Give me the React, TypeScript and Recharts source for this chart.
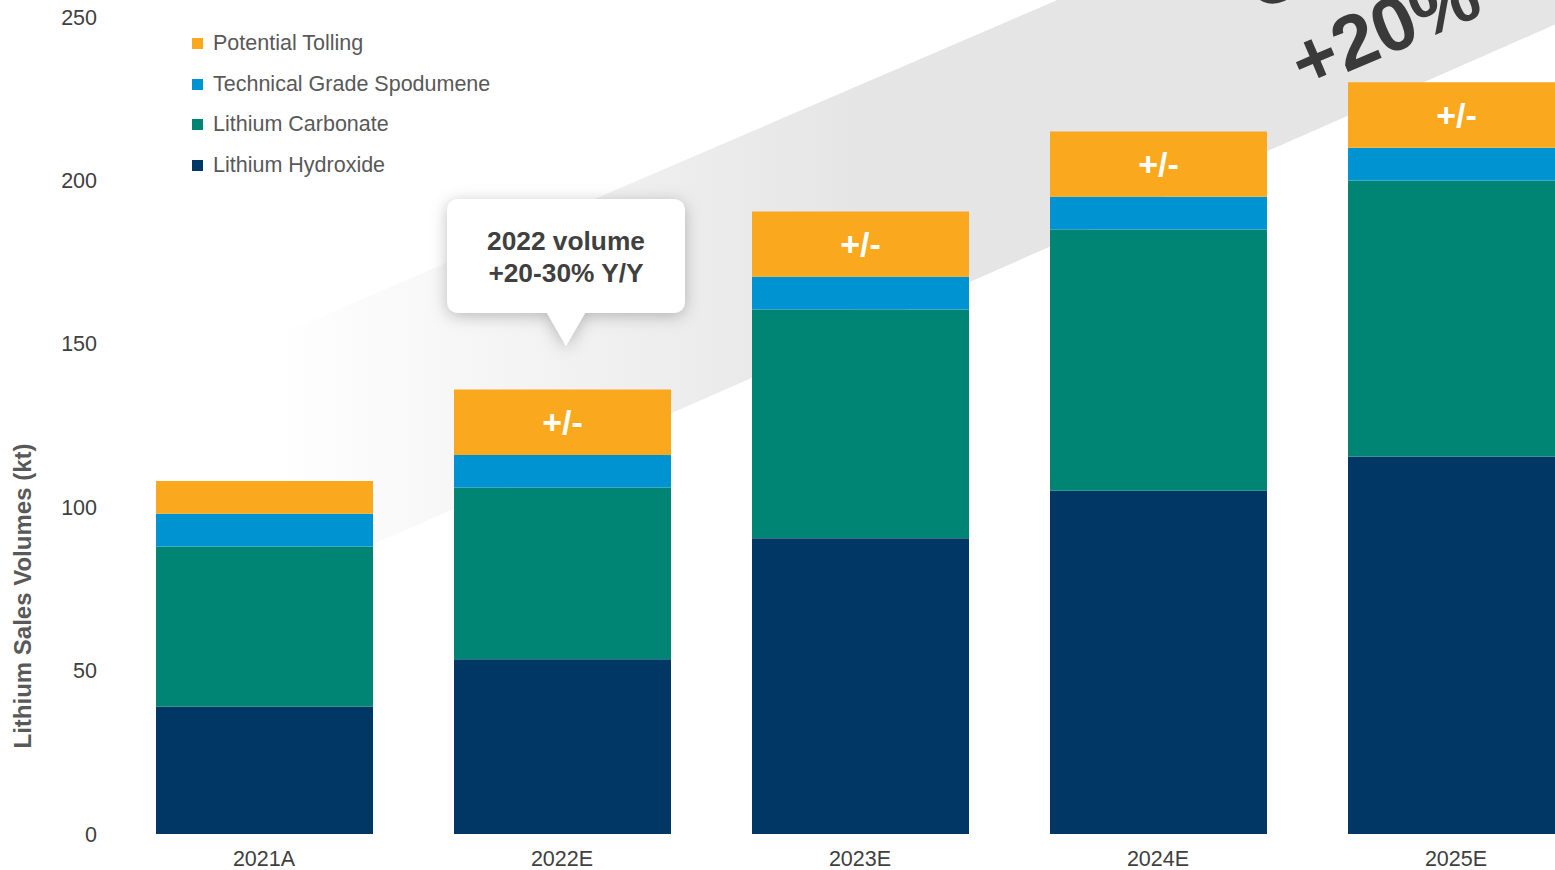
import { BarChart, Bar, XAxis, YAxis, LabelList } from 'recharts';

// Lithium sales volumes (kt)
const categories = ['2021A', '2022E', '2023E', '2024E', '2025E'];
const hydroxide = [39, 53.5, 90.5, 105, 115.5];
const carbonate = [49, 52.5, 70, 80, 84.5];
const technical = [10, 10, 10, 10, 10];
const tolling = [10, 20, 20, 20, 20];
const notes = ['', '+/-', '+/-', '+/-', '+/-'];
const yTicks = [0, 50, 100, 150, 200, 250];

const seriesNames = ['Potential Tolling', 'Technical Grade Spodumene', 'Lithium Carbonate', 'Lithium Hydroxide'];
const seriesColors = ['#FAA91E', '#0093D2', '#008575', '#003764'];

const FONT = '"Liberation Sans", Arial, sans-serif';

const data = categories.map((name, i) => ({
  name,
  hydroxide: hydroxide[i],
  carbonate: carbonate[i],
  technical: technical[i],
  tolling: tolling[i],
  note: notes[i],
}));

function Legend() {
  return (
    <div style={{ position: 'absolute', left: 192, top: 23, fontFamily: FONT, fontSize: 21.5, color: '#595959' }}>
      {seriesNames.map((n, i) => (
        <div key={n} style={{ display: 'flex', alignItems: 'center', height: 40.7 }}>
          <span style={{ width: 11, height: 11, background: seriesColors[i], marginRight: 10, display: 'inline-block' }} />
          {n}
        </div>
      ))}
    </div>
  );
}

export default function App() {
  return (
    <div style={{ position: 'absolute', left: 0, top: 0, width: 1555, height: 870, overflow: 'hidden', background: '#fff' }}>
      {/* growth band behind the bars */}
      <svg width={1555} height={870} style={{ position: 'absolute', left: 0, top: 0 }}>
        <defs>
          <linearGradient id="bandFade" x1="270" y1="0" x2="860" y2="0" gradientUnits="userSpaceOnUse">
            <stop offset="0" stopColor="#e5e5e5" stopOpacity="0" />
            <stop offset="1" stopColor="#e5e5e5" stopOpacity="1" />
          </linearGradient>
        </defs>
        <polygon points="260,343 1620,-242 1620,-4 260,594" fill="url(#bandFade)" />
        <g fontFamily={FONT} fontWeight="bold" fontSize={76} fill="#3a3a3a" textAnchor="middle">
          <text x={1360} y={-32} transform="rotate(-23 1360 -32)">CAGR</text>
          <text x={1395} y={52} transform="rotate(-23 1395 52)">+20%</text>
        </g>
      </svg>

      <div style={{ position: 'absolute', left: 0, top: 0 }}>
        <BarChart width={1605} height={870} data={data} margin={{ top: 17, right: 0, bottom: 6, left: 0 }} barSize={217}>
          <XAxis
            dataKey="name"
            height={30}
            axisLine={false}
            tickLine={false}
            tickSize={0}
            tickMargin={17}
            tick={{ fill: '#404040', fontSize: 21.5, fontFamily: FONT }}
          />
          <YAxis
            width={115}
            domain={[0, 250]}
            ticks={yTicks}
            axisLine={false}
            tickLine={false}
            tickSize={0}
            tickMargin={18}
            tick={{ fill: '#404040', fontSize: 21.5, fontFamily: FONT }}
          />
          <Bar dataKey="hydroxide" stackId="a" fill={seriesColors[3]} isAnimationActive={false} />
          <Bar dataKey="carbonate" stackId="a" fill={seriesColors[2]} isAnimationActive={false} />
          <Bar dataKey="technical" stackId="a" fill={seriesColors[1]} isAnimationActive={false} />
          <Bar dataKey="tolling" stackId="a" fill={seriesColors[0]} isAnimationActive={false}>
            <LabelList dataKey="note" position="center" fill="#fff" fontSize={34} fontWeight="bold" fontFamily={FONT} />
          </Bar>
        </BarChart>
      </div>

      {/* y axis title */}
      <svg width={60} height={870} style={{ position: 'absolute', left: 0, top: 0 }}>
        <text x={31} y={596} transform="rotate(-90 31 596)" textAnchor="middle" fontFamily={FONT} fontWeight="bold" fontSize={24} fill="#595959">
          Lithium Sales Volumes (kt)
        </text>
      </svg>

      <Legend />

      {/* callout */}
      <svg width={800} height={420} style={{ position: 'absolute', left: 0, top: 0 }}>
        <defs>
          <filter id="calloutShadow" x="-30%" y="-30%" width="160%" height="160%">
            <feDropShadow dx="0" dy="3" stdDeviation="8" floodColor="#000" floodOpacity="0.25" />
          </filter>
        </defs>
        <path
          d="M460,199 H672 Q685,199 685,212 V300 Q685,313 672,313 H585 L566,346 L547,313 H460 Q447,313 447,300 V212 Q447,199 460,199 Z"
          fill="#fff"
          filter="url(#calloutShadow)"
        />
        <g fontFamily={FONT} fontWeight="bold" fontSize={26.3} fill="#404040" textAnchor="middle">
          <text x={566} y={250}>2022 volume</text>
          <text x={566} y={282}>+20-30% Y/Y</text>
        </g>
      </svg>
    </div>
  );
}
